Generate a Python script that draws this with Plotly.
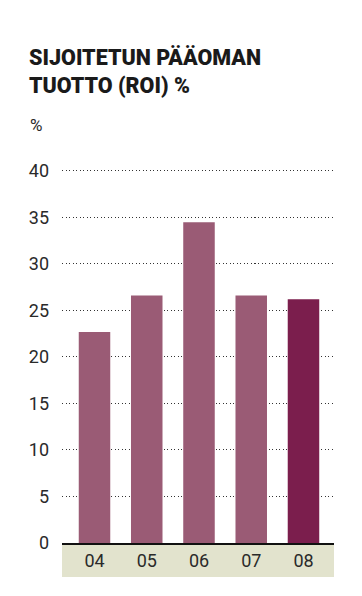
import plotly.graph_objects as go

years = ["04", "05", "06", "07", "08"]
roi = [22.7, 26.6, 34.5, 26.6, 26.2]
bar_colors = ["#9a5b75", "#9a5b75", "#9a5b75", "#9a5b75", "#7b1e4d"]
y_ticks = [0, 5, 10, 15, 20, 25, 30, 35, 40]

title_line1 = "SIJOITETUN PÄÄOMAN"
title_line2 = "TUOTTO (ROI) %"
unit_label = "%"

FONT = "Roboto, 'Open Sans', sans-serif"

fig = go.Figure(
    go.Bar(
        x=years,
        y=roi,
        marker=dict(color=bar_colors, line=dict(width=0)),
        width=0.603,
    )
)

OFF = 8  # page body margin
W, H = 362 - OFF, 596 - OFF
L, R, T, B = 62 - OFF, 28, 160 - OFF, 53
ph = H - T - B


def py(px):
    return (H - B - (px - OFF)) / ph


def px_x(px):
    return (px - OFF - L) / (W - L - R)


fig.update_layout(
    width=W,
    height=H,
    margin=dict(l=L, r=R, t=T, b=B),
    paper_bgcolor="white",
    plot_bgcolor="white",
    showlegend=False,
    font=dict(family=FONT, color="#222222", size=16),
    xaxis=dict(
        type="category",
        range=[-0.622, 4.584],
        showline=True,
        linecolor="#111111",
        linewidth=2,
        showgrid=False,
        ticks="",
        tickfont=dict(size=18, color="#2a2a2a"),
        ticklabelstandoff=0,
        fixedrange=True,
    ),
    yaxis=dict(
        range=[0, 41.18],
        tickvals=y_ticks,
        showgrid=True,
        gridcolor="#333333",
        gridwidth=1,
        griddash="1px,2.5px",
        zeroline=False,
        showline=False,
        ticks="",
        tickfont=dict(size=18, color="#2a2a2a"),
        ticklabelstandoff=12,
        fixedrange=True,
    ),
    shapes=[
        dict(
            type="rect",
            xref="paper",
            yref="paper",
            x0=0,
            x1=1,
            y0=py(577),
            y1=py(544),
            fillcolor="#e2e3cd",
            line=dict(width=0),
            layer="below",
        )
    ],
    annotations=[
        dict(
            text=title_line1,
            xref="paper", yref="paper",
            x=px_x(27), y=py(57.5),
            xanchor="left", yanchor="middle",
            showarrow=False,
            font=dict(size=21.5, color="#1a1a1a", family=FONT, weight=900),
        ),
        dict(
            text=title_line2,
            xref="paper", yref="paper",
            x=px_x(27), y=py(85.5),
            xanchor="left", yanchor="middle",
            showarrow=False,
            font=dict(size=21.5, color="#1a1a1a", family=FONT, weight=900),
        ),
        dict(
            text=unit_label,
            xref="paper", yref="paper",
            x=px_x(28), y=py(125.5),
            xanchor="left", yanchor="middle",
            showarrow=False,
            font=dict(size=17, color="#2a2a2a", family=FONT),
        ),
    ],
)

fig.write_html("out.html")
